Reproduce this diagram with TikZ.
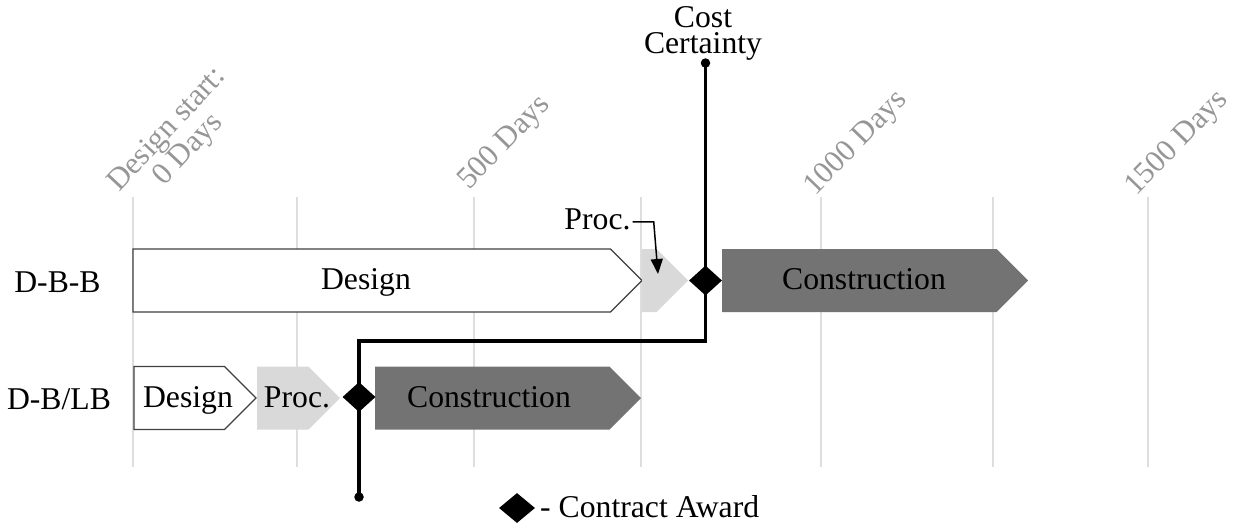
\documentclass[tikz,border=0pt]{standalone}
\usepackage{fontspec}
\setmainfont{Liberation Serif}
\usetikzlibrary{shapes.geometric,arrows.meta}
\definecolor{gridc}{RGB}{222,222,222}
\definecolor{labc}{RGB}{150,150,150}
\definecolor{procc}{RGB}{217,217,217}
\definecolor{consc}{RGB}{115,115,115}
\definecolor{borderc}{RGB}{64,64,64}
\newcommand{\pentbar}[4]{\path[#4] (#1,#3-31.5) -- (#2-31.5,#3-31.5) -- (#2,#3) -- (#2-31.5,#3+31.5) -- (#1,#3+31.5) -- cycle;}
\begin{document}
\begin{tikzpicture}[x=1pt,y=-1pt,
  lbl/.style={font=\fontsize{31.7}{26}\selectfont, inner sep=0pt, text=black},
  axl/.style={font=\fontsize{31}{26}\selectfont, inner sep=0pt, text=labc, rotate=46, anchor=base west},
  gridline/.style={draw=gridc, line width=1.2pt},
  designbar/.style={fill=white, draw=borderc, line width=1.3pt, line join=miter},
  procbar/.style={fill=procc},
  consbar/.style={fill=consc},
  dia/.style={diamond, fill=black, inner sep=0pt},
  dot/.style={circle, fill=black, inner sep=0pt, minimum size=9.5pt},
  ccline/.style={draw=black, line width=3.2pt},
  procarrow/.style={draw=black, line width=1.5pt, -{Triangle[length=15pt,width=12pt]}}]
\useasboundingbox (0,0) rectangle (1233,531);
% grid
\foreach \x in {133,297,474,641,821,993,1148} \draw[gridline] (\x,197) -- (\x,467);
% axis labels
\node[axl, rotate=1] (a0a) at (119,193) {Design start:};
\node[axl, rotate=1] (a0b) at (164,187) {0 Days};
\node[axl] (a500) at (469,191) {500 Days};
\node[axl] (a1000) at (815,197) {1000 Days};
\node[axl] (a1500) at (1136,197) {1500 Days};
% D-B-B row
\pentbar{133}{642}{280.5}{designbar}
\pentbar{642}{688}{280.5}{procbar}
\pentbar{722}{1028}{280.5}{consbar}
% D-B/LB row
\pentbar{134}{256}{398}{designbar}
\pentbar{257}{340}{398}{procbar}
\pentbar{375}{641}{398}{consbar}
% texts
\node[lbl, anchor=base] (r1) at (57.5,292) {D-B-B};
\node[lbl, anchor=base] (r2) at (59,409) {D-B/LB};
\node[lbl, anchor=base] (t1) at (366,289.5) {Design};
\node[lbl, anchor=base] (t2) at (864,289.5) {Construction};
\node[lbl, anchor=base] (t3) at (188,407) {Design};
\node[lbl, anchor=base] (t4) at (297,407) {Proc.};
\node[lbl, anchor=base] (t5) at (489,407) {Construction};
% proc label
\node[lbl, anchor=base] (pl) at (597.5,229) {Proc.};
\coordinate (ptip) at (658,274);
\draw[procarrow] ([shift={(2,3)}]pl.east) -- ++(21,0) -- (ptip);
% cost certainty
\node[lbl, align=center, anchor=north] (cc) at (703,6) {Cost\\Certainty};
\node[dot] (ctop) at (705.5,63) {};
\node[dot] (cbot) at (359,497) {};
\node[dia, minimum width=33pt, minimum height=30pt] (d1) at (705.5,280.5) {};
\node[dia, minimum width=33pt, minimum height=30pt] (d2) at (359,397) {};
\coordinate (turn) at (0,341);
\draw[ccline] (ctop.center) -- (d1.center) -- (d1.center |- turn) -- (d2.center |- turn) -- (d2.center) -- (cbot.center);
% legend
\node[dia, minimum width=36pt, minimum height=30pt] (d3) at (517,508) {};
\node[lbl, anchor=base west] (lt) at (540,517) {- Contract Award};
\end{tikzpicture}
\end{document}
